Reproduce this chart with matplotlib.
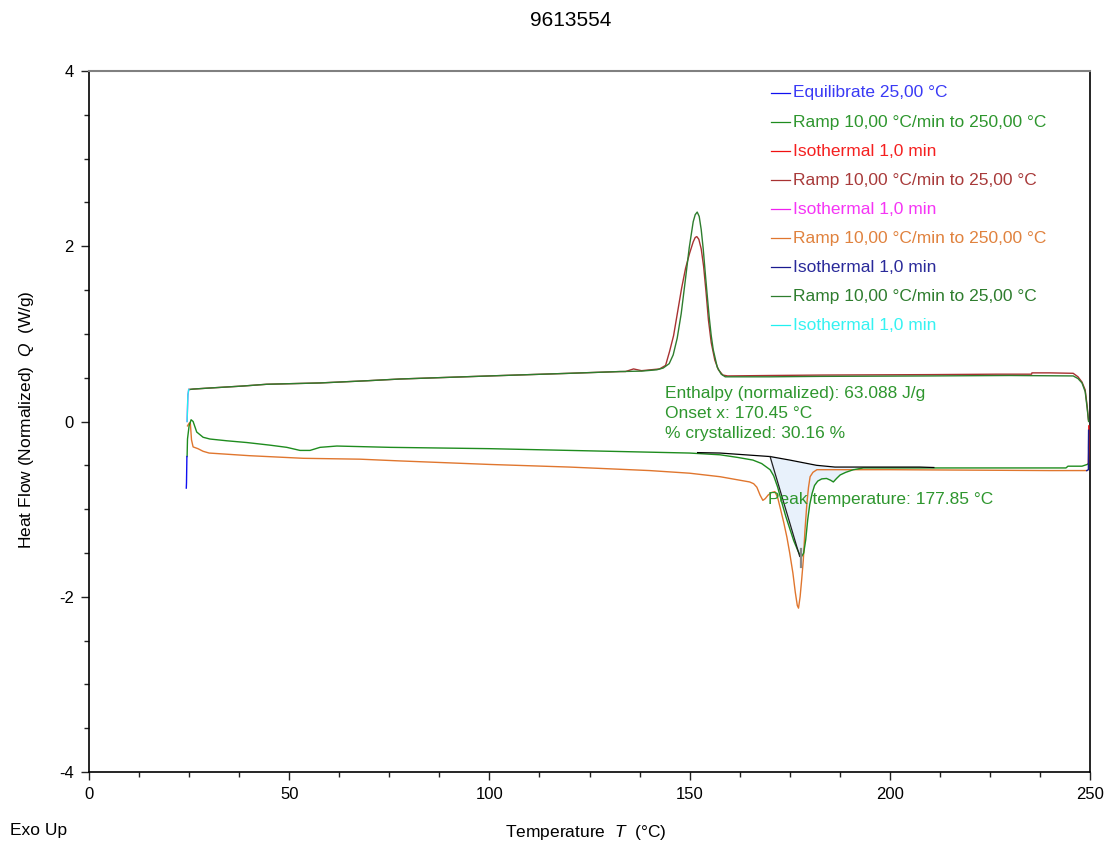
import numpy as np
import matplotlib
matplotlib.use("Agg")
import matplotlib.pyplot as plt
from matplotlib.ticker import MultipleLocator

plt.rcParams['font.family'] = ['Liberation Sans', 'DejaVu Sans']
plt.rcParams['mathtext.fontset'] = 'custom'
plt.rcParams['mathtext.it'] = 'Liberation Sans:italic'
plt.rcParams['mathtext.rm'] = 'Liberation Sans'
plt.rcParams['axes.unicode_minus'] = False

# ---------------- data ----------------
title = "9613554"
legend_labels = ["Equilibrate 25,00 °C", "Ramp 10,00 °C/min to 250,00 °C", "Isothermal 1,0 min",
                 "Ramp 10,00 °C/min to 25,00 °C", "Isothermal 1,0 min", "Ramp 10,00 °C/min to 250,00 °C",
                 "Isothermal 1,0 min", "Ramp 10,00 °C/min to 25,00 °C", "Isothermal 1,0 min"]
seg_colors = ['#1010F0', '#1E8C1E', '#F01010', '#A83232', '#F020F0', '#E0762E', '#1A1A90', '#2E7D2E', '#20F0F0']
text_colors = ['#3A3AF5', '#2E962E', '#F52020', '#A83A3A', '#F535F5', '#E0823E', '#2A2A9A', '#2E7D2E', '#35F2F2']

# 1 Equilibrate
eq_T = [24.3, 24.35, 24.4, 24.45]
eq_Q = [-0.76, -0.70, -0.55, -0.40]

# 2 Ramp heating 1
h1_T = [24.5, 24.6, 25.0, 25.5, 26.0, 26.9, 28.5, 30.2, 34.4, 39.4, 45.2, 49.4, 52.7, 55.2, 57.7,
        61.9, 75.2, 100, 120, 140, 150, 157.6, 162, 165.8, 168, 170.1, 171.0, 172.0, 173.0, 174.0,
        175.0, 176.0, 177.0, 177.85, 178.5, 179.0, 179.5, 180.0, 180.6, 181.2, 182.0, 183.0,
        184.2, 185.2, 185.9, 186.7, 187.6, 189, 190.9, 193.4, 200, 220, 244, 244.5, 248, 249.3, 249.6]
h1_Q = [-0.40, -0.20, -0.05, 0.02, 0.0, -0.12, -0.18, -0.20, -0.22, -0.24, -0.27, -0.295, -0.33,
        -0.33, -0.295, -0.28, -0.295, -0.31, -0.33, -0.35, -0.36, -0.38, -0.41, -0.44, -0.48,
        -0.55, -0.62, -0.75, -0.92, -1.08, -1.22, -1.36, -1.47, -1.55, -1.50, -1.35, -1.12,
        -0.95, -0.82, -0.73, -0.68, -0.655, -0.65, -0.67, -0.69, -0.65, -0.61, -0.58, -0.55,
        -0.53, -0.53, -0.53, -0.53, -0.51, -0.51, -0.49, -0.48]

# 3 Isothermal at 250
iso1_T = [249.6, 249.7, 249.7]
iso1_Q = [-0.48, -0.30, -0.05]

# 4 Ramp cooling 1
c1_T = [249.6, 249.3, 248.8, 248.0, 247.0, 245.8, 240, 235.5, 235.4, 226.7, 210, 183, 170, 159.5,
        158.3, 157.2, 156.3, 155.4, 154.7, 154.1, 153.5, 152.9, 152.3, 151.8, 151.4, 150.9, 150.0,
        149.0, 148.0, 147.0, 146.0, 145.0, 144.0, 142.5, 138, 136, 134,
        132.6, 120, 100, 77.7, 69.4, 57.7, 44.4, 38.5, 29.4, 26, 25.0]
c1_Q = [0.02, 0.17, 0.36, 0.45, 0.51, 0.55, 0.555, 0.555, 0.54, 0.54, 0.535, 0.53, 0.525, 0.52,
        0.53, 0.59, 0.70, 0.90, 1.16, 1.48, 1.77, 1.97, 2.08, 2.11, 2.10, 2.05, 1.92,
        1.75, 1.52, 1.25, 0.98, 0.80, 0.64, 0.60, 0.58, 0.60, 0.57, 0.57,
        0.55, 0.52, 0.485, 0.465, 0.44, 0.425, 0.405, 0.38, 0.37, 0.365]

# 5 Isothermal at 25
iso2_T = [24.9, 24.7, 24.6, 24.5]
iso2_Q = [0.365, 0.30, 0.15, 0.0]

# 6 Ramp heating 2
h2_T = [24.6, 25.0, 25.3, 25.6, 26.0, 27.2, 28.5, 30, 35, 40, 53.5, 67.7, 77.7, 100, 120, 140, 150,
        157.6, 165, 166.0, 166.8, 167.6, 168.3, 168.9, 169.6, 170.5, 171.3, 172.0, 172.6, 173.5,
        174.3, 175.0, 175.8, 176.4, 176.9, 177.2, 177.6, 178.0, 178.4, 178.8, 179.3, 179.7,
        180.1, 180.8, 181.8, 185, 200, 220, 240, 249.2]
h2_Q = [-0.05, -0.02, -0.01, -0.21, -0.29, -0.31, -0.34, -0.36, -0.375, -0.39, -0.42, -0.43, -0.45,
        -0.49, -0.52, -0.56, -0.59, -0.63, -0.69, -0.71, -0.75, -0.84, -0.90, -0.88, -0.84, -0.81,
        -0.80, -0.87, -0.98, -1.15, -1.32, -1.50, -1.73, -1.95, -2.10, -2.13, -2.00, -1.80,
        -1.58, -1.25, -0.93, -0.75, -0.63, -0.58, -0.55, -0.55, -0.55, -0.555, -0.56, -0.56]

# 7 Isothermal at 250
iso3_T = [249.2, 249.6, 249.6, 249.65]
iso3_Q = [-0.56, -0.55, -0.30, -0.10]

# 8 Ramp cooling 2
c2_T = [249.65, 249.3, 248.8, 248.0, 247.0, 245.8, 230, 210, 183, 170, 160, 158.9, 157.9, 156.9,
        155.9, 155.4, 154.9, 154.4, 153.9, 153.4, 152.9, 152.4, 151.9, 151.4, 150.9, 149.9,
        148.9, 147.9, 146.9, 145.9, 144.9, 143.4, 141.8, 138, 132.6, 120, 100,
        77.7, 69.4, 57.7, 44.4, 38.5, 29.4, 26, 25.0]
c2_Q = [0.0, 0.15, 0.34, 0.44, 0.49, 0.52, 0.525, 0.52, 0.515, 0.51, 0.51, 0.51, 0.54, 0.62,
        0.82, 0.98, 1.19, 1.44, 1.70, 1.97, 2.19, 2.34, 2.39, 2.36, 2.28, 1.98,
        1.60, 1.23, 0.95, 0.76, 0.66, 0.61, 0.59, 0.575, 0.57, 0.55, 0.52,
        0.485, 0.465, 0.44, 0.425, 0.405, 0.38, 0.37, 0.365]

# 9 Isothermal at 25 (final)
iso4_T = [24.9, 24.7, 24.6, 24.5]
iso4_Q = [0.365, 0.30, 0.15, 0.0]

# Analysis (integration) annotations
base_T = [152.0, 157.6, 170.1, 175, 181.7, 186.3, 207.5, 211.0]
base_Q = [-0.355, -0.36, -0.40, -0.44, -0.50, -0.52, -0.52, -0.525]
tan_T = [170.1, 177.5]
tan_Q = [-0.40, -1.54]
peak_T = 177.85
peak_marker_Q = [-1.46, -1.66]
fill_range = [170.1, 193.0]
ann_lines = ["Enthalpy (normalized): 63.088 J/g", "Onset x: 170.45 °C", "% crystallized: 30.16 %"]
peak_label = "Peak temperature: 177.85 °C"

# ---------------- figure ----------------
W, H = 1109, 843
fig = plt.figure(figsize=(W / 100, H / 100), dpi=100)
ax = fig.add_axes([89 / W, 1 - 772 / H, (1090 - 89) / W, (772 - 71) / H])
ax.set_xlim(0, 250)
ax.set_ylim(-4, 4)

# fill between baseline and first heating curve
ft = np.array([t for t in h1_T if fill_range[0] <= t <= fill_range[1]])
fq = np.interp(ft, h1_T, h1_Q)
fb = np.interp(ft, base_T, base_Q)
ax.fill_between(ft, fb, fq, color='#E8F1FB', lw=0, zorder=1)

lw = 1.0
ax.plot(c1_T, c1_Q, color=seg_colors[3], lw=lw, zorder=3)
ax.plot(c2_T, c2_Q, color=seg_colors[7], lw=lw, zorder=4)
ax.plot(h2_T, h2_Q, color=seg_colors[5], lw=lw, zorder=3)
ax.plot(h1_T, h1_Q, color=seg_colors[1], lw=lw, zorder=4)
ax.plot(eq_T, eq_Q, color=seg_colors[0], lw=lw, zorder=5)
ax.plot(iso1_T, iso1_Q, color=seg_colors[2], lw=lw, zorder=5)
ax.plot(iso2_T, iso2_Q, color=seg_colors[4], lw=lw, zorder=5)
ax.plot(iso3_T, iso3_Q, color=seg_colors[6], lw=lw, zorder=5)
ax.plot(iso4_T, iso4_Q, color=seg_colors[8], lw=lw, zorder=6)

ax.plot(base_T, base_Q, color='black', lw=0.9, zorder=5)
ax.plot(tan_T, tan_Q, color='#222222', lw=0.9, zorder=5)
ax.plot([peak_T, peak_T], peak_marker_Q, color='#888888', lw=1.6, zorder=6)

ann_color = '#2E962E'
for i, s in enumerate(ann_lines):
    ax.text(143.8, 0.325 - 0.229 * i, s, color=ann_color, fontsize=12.5, va='center', ha='left', zorder=7)
ax.text(169.6, -0.885, peak_label, color=ann_color, fontsize=12.5, va='center', ha='left', zorder=7)

# ticks & spines
ax.xaxis.set_major_locator(MultipleLocator(50))
ax.xaxis.set_minor_locator(MultipleLocator(12.5))
ax.yaxis.set_major_locator(MultipleLocator(2))
ax.yaxis.set_minor_locator(MultipleLocator(0.5))
ax.tick_params(axis='both', which='major', direction='out', length=6, width=1, labelsize=12, pad=5, color='#222222')
ax.tick_params(axis='both', which='minor', direction='out', length=3.5, width=1, color='#222222')
ax.tick_params(axis='x', which='both', top=False)
ax.tick_params(axis='y', which='both', right=False)
for s in ['left', 'bottom', 'right']:
    ax.spines[s].set_color('black')
    ax.spines[s].set_linewidth(1.2)
ax.spines['top'].set_color('#808080')
ax.spines['top'].set_linewidth(1.5)

# legend (manual)
for i, (lab, lc, tc) in enumerate(zip(legend_labels, seg_colors, text_colors)):
    ypx = 93 + 29 * i
    yf = 1 - ypx / H
    fig.add_artist(plt.Line2D([771 / W, 790 / W], [yf, yf], color=lc, lw=0.9, transform=fig.transFigure))
    fig.text(793 / W, yf, lab, color=tc, fontsize=12.5, va='center', ha='left')

# titles and labels
fig.text(571 / W, 1 - 20 / H, title, fontsize=15, ha='center', va='center')
fig.text(586 / W, 1 - 832 / H, r"Temperature  $T$  (°C)", fontsize=12.5, ha='center', va='center')
fig.text(27 / W, 1 - 420 / H, r"Heat Flow (Normalized)  $Q$  (W/g)", fontsize=12.5, ha='center', va='center', rotation=90)
fig.text(10 / W, 1 - 830 / H, "Exo Up", fontsize=12.5, ha='left', va='center')

fig.savefig("out.png", dpi=100)
